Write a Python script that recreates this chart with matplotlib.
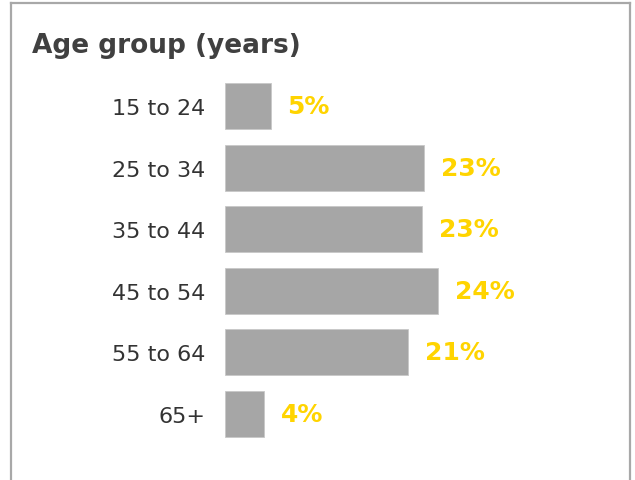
import matplotlib.pyplot as plt
from matplotlib.lines import Line2D

# data
groups = ["15 to 24", "25 to 34", "35 to 44", "45 to 54", "55 to 64", "65+"]
shares = [5.2, 22.7, 22.5, 24.3, 20.9, 4.4]
share_labels = ["5%", "23%", "23%", "24%", "21%", "4%"]

W, H = 635, 481
fig = plt.figure(figsize=(W / 100, H / 100), dpi=100)

# axes placed in pixels: bars start at x=225, rows from y=76 to y=445
px_per_pct = 8.75
ax = fig.add_axes([225 / W, (H - 445.5) / H, 400 / W, 369 / H])
ax.set_xlim(0, 400 / px_per_pct)
ax.set_ylim(len(groups) - 0.5, -0.5)

ypos = list(range(len(groups)))
ax.barh(ypos, shares, height=0.75, color="#a6a6a6", edgecolor="#c8c8c8", linewidth=0.6)

for y, v, lab in zip(ypos, shares, share_labels):
    ax.annotate(lab, (v, y), xytext=(12.2, 0), textcoords="offset points",
                ha="left", va="center", fontsize=18, fontweight="bold", color="#ffd400")

ax.set_yticks(ypos)
ax.set_yticklabels(groups, fontsize=16, color="#333333")
ax.tick_params(axis="y", length=0, pad=14)
ax.set_xticks([])
for s in ax.spines.values():
    s.set_visible(False)

fig.text(32 / W, (H - 53) / H, "Age group (years)", fontsize=19, fontweight="bold",
         color="#404040", ha="left", va="baseline")

# frame: top, left and right edges
border = "#a8a8a8"
fig.add_artist(Line2D([11 / W, 630 / W], [(H - 4) / H, (H - 4) / H], color=border, lw=1.6))
fig.add_artist(Line2D([11 / W, 11 / W], [0, (H - 4) / H], color=border, lw=1.6))
fig.add_artist(Line2D([630 / W, 630 / W], [0, (H - 4) / H], color=border, lw=1.6))

fig.savefig("out.png", dpi=100)
